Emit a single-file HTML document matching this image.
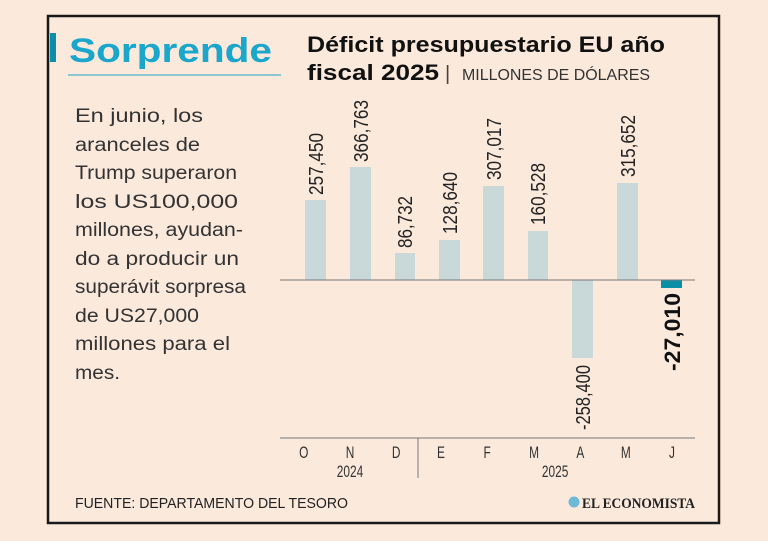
<!DOCTYPE html>
<html><head><meta charset="utf-8"><style>
html,body{margin:0;padding:0;background:#fbe9dc;}
svg{display:block;}
</style></head><body>
<svg width="768" height="541" viewBox="0 0 768 541" xmlns="http://www.w3.org/2000/svg">
<rect x="0" y="0" width="768" height="541" fill="#fbe9dc"/>
<rect x="48" y="16" width="671" height="507" fill="#fbe9dc" stroke="#1a1a1a" stroke-width="2.5"/>
<rect x="50" y="33" width="6" height="29" fill="#0b8fa6"/>
<text x="69" y="62" font-family="Liberation Sans, sans-serif" font-weight="bold" font-size="34" fill="#1ba6cc" textLength="203" lengthAdjust="spacingAndGlyphs">Sorprende</text>
<line x1="68" y1="75" x2="281" y2="75" stroke="#1ba6cc" stroke-width="1"/>
<text x="307" y="52" font-family="Liberation Sans, sans-serif" font-weight="bold" font-size="22" fill="#111" textLength="358" lengthAdjust="spacingAndGlyphs">Déficit presupuestario EU año</text>
<text x="307" y="80" font-family="Liberation Sans, sans-serif" font-weight="bold" font-size="22" fill="#111" textLength="132" lengthAdjust="spacingAndGlyphs">fiscal 2025</text>
<text x="445" y="80" font-family="Liberation Sans, sans-serif" font-size="20" fill="#444">|</text>
<text x="462" y="80" font-family="Liberation Sans, sans-serif" font-size="16" fill="#333" textLength="188" lengthAdjust="spacingAndGlyphs">MILLONES DE DÓLARES</text>
<g font-family="Liberation Sans, sans-serif" font-size="19" fill="#333">
<text x="75" y="122" textLength="128" lengthAdjust="spacingAndGlyphs">En junio, los</text>
<text x="75" y="151" textLength="125" lengthAdjust="spacingAndGlyphs">aranceles de</text>
<text x="75" y="179" textLength="162" lengthAdjust="spacingAndGlyphs">Trump superaron</text>
<text x="75" y="208" textLength="163" lengthAdjust="spacingAndGlyphs">los  US100,000</text>
<text x="75" y="236" textLength="168" lengthAdjust="spacingAndGlyphs">millones, ayudan-</text>
<text x="75" y="265" textLength="164" lengthAdjust="spacingAndGlyphs">do a producir un</text>
<text x="75" y="293" textLength="171" lengthAdjust="spacingAndGlyphs">superávit sorpresa</text>
<text x="75" y="322" textLength="124" lengthAdjust="spacingAndGlyphs">de US27,000</text>
<text x="75" y="350" textLength="155" lengthAdjust="spacingAndGlyphs">millones para el</text>
<text x="75" y="379" textLength="45" lengthAdjust="spacingAndGlyphs">mes.</text>
</g>
<g fill="#c9d8d8">
<rect x="305" y="200" width="21" height="80"/>
<rect x="350" y="167" width="21" height="113"/>
<rect x="395" y="253" width="20" height="27"/>
<rect x="439" y="240" width="21" height="40"/>
<rect x="483" y="186" width="21" height="94"/>
<rect x="528" y="231" width="20" height="49"/>
<rect x="572" y="280" width="21" height="78"/>
<rect x="617" y="183" width="21" height="97"/>
</g>
<rect x="661" y="280" width="21" height="8" fill="#0b8fa6"/>
<line x1="280" y1="280" x2="695" y2="280" stroke="#777" stroke-width="1"/>
<line x1="280" y1="438" x2="695" y2="438" stroke="#777" stroke-width="1"/>
<line x1="418" y1="438" x2="418" y2="478" stroke="#777" stroke-width="1"/>
<g font-family="Liberation Sans Narrow, Liberation Sans, sans-serif" font-size="20" fill="#222">
<text transform="translate(323,195) rotate(-90)" textLength="62" lengthAdjust="spacingAndGlyphs">257,450</text>
<text transform="translate(368,162) rotate(-90)" textLength="62" lengthAdjust="spacingAndGlyphs">366,763</text>
<text transform="translate(412,248) rotate(-90)" textLength="52" lengthAdjust="spacingAndGlyphs">86,732</text>
<text transform="translate(457,234) rotate(-90)" textLength="62" lengthAdjust="spacingAndGlyphs">128,640</text>
<text transform="translate(501,180) rotate(-90)" textLength="62" lengthAdjust="spacingAndGlyphs">307,017</text>
<text transform="translate(545,225) rotate(-90)" textLength="62" lengthAdjust="spacingAndGlyphs">160,528</text>
<text transform="translate(590,430) rotate(-90)" textLength="65" lengthAdjust="spacingAndGlyphs">-258,400</text>
<text transform="translate(635,177) rotate(-90)" textLength="62" lengthAdjust="spacingAndGlyphs">315,652</text>
<text transform="translate(680,371) rotate(-90)" font-weight="bold" font-size="22" fill="#111" textLength="78" lengthAdjust="spacingAndGlyphs">-27,010</text>
</g>
<g font-family="Liberation Sans Narrow, Liberation Sans, sans-serif" font-size="17" fill="#333" text-anchor="middle">
<g transform="scale(0.7,1)">
<text x="434" y="458">O</text><text x="500" y="458">N</text><text x="566" y="458">D</text>
<text x="630" y="458">E</text><text x="696" y="458">F</text><text x="763" y="458">M</text>
<text x="829" y="458">A</text><text x="894" y="458">M</text><text x="960" y="458">J</text>
<text x="500" y="477">2024</text><text x="793" y="477">2025</text>
</g>
</g>
<text x="75" y="508" font-family="Liberation Sans, sans-serif" font-size="15" fill="#222" textLength="273" lengthAdjust="spacingAndGlyphs">FUENTE: DEPARTAMENTO DEL TESORO</text>
<circle cx="574" cy="502" r="5.5" fill="#6fb8d6"/>
<text x="582" y="508" font-family="Liberation Serif, serif" font-weight="bold" font-size="15" fill="#222" textLength="113" lengthAdjust="spacingAndGlyphs">EL ECONOMISTA</text>
</svg>
</body></html>
